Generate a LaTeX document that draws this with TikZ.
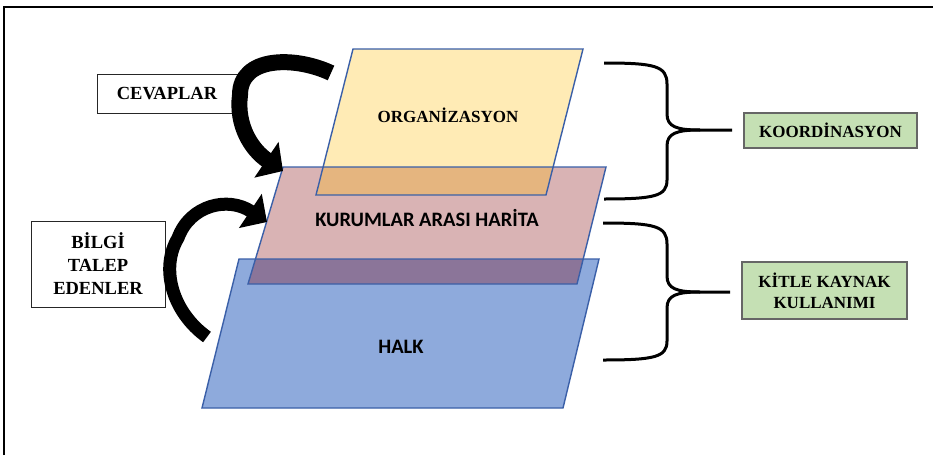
\documentclass[tikz,border=0pt]{standalone}
\usepackage{fontspec}
\setmainfont{Liberation Serif}
\newfontfamily\calib{Carlito}
\usetikzlibrary{arrows.meta}
\definecolor{blueL}{RGB}{142,170,220}
\definecolor{pinkL}{RGB}{217,179,180}
\definecolor{purpleL}{RGB}{139,117,153}
\definecolor{yellowL}{RGB}{255,235,181}
\definecolor{orangeL}{RGB}{229,181,127}
\definecolor{edgeL}{RGB}{58,95,168}
\definecolor{greenL}{RGB}{197,224,180}
\tikzset{
  layeredge/.style={draw=edgeL, line width=1.4pt, line join=miter},
  wbox/.style={draw=black!85, line width=0.9pt, fill=white, align=center, inner sep=0pt},
  gbox/.style={draw=black!60, line width=1.1pt, fill=greenL, align=center, inner sep=0pt},
  brace/.style={draw=black, line width=3pt},
  serifb/.style={font=\bfseries\fontsize{17}{21}\selectfont},
  sansb/.style={font=\calib\bfseries\fontsize{20.5}{24}\selectfont}
}
\begin{document}
\begin{tikzpicture}[x=1pt,y=-1pt]
\useasboundingbox (0,0) rectangle (933,455);
\fill[white] (0,0) rectangle (933,455);
\draw[line width=2pt] (4,455) -- (4,7) -- (933,7);

% layer corners
\coordinate (b1) at (239,259); \coordinate (b2) at (599,259);
\coordinate (b3) at (563,408); \coordinate (b4) at (202,408);
\coordinate (p1) at (283,167); \coordinate (p2) at (606,167);
\coordinate (p3) at (577,284); \coordinate (p4) at (248,284);
\coordinate (y1) at (353,49);  \coordinate (y2) at (583,49);
\coordinate (y3) at (546,195); \coordinate (y4) at (316,195);

\fill[blueL] (b1) -- (b2) -- (b3) -- (b4) -- cycle;
\fill[pinkL] (p1) -- (p2) -- (p3) -- (p4) -- cycle;
\begin{scope}
  \clip (b1) -- (b2) -- (b3) -- (b4) -- cycle;
  \fill[purpleL] (p1) -- (p2) -- (p3) -- (p4) -- cycle;
\end{scope}
\fill[yellowL] (y1) -- (y2) -- (y3) -- (y4) -- cycle;
\begin{scope}
  \clip (p1) -- (p2) -- (p3) -- (p4) -- cycle;
  \fill[orangeL] (y1) -- (y2) -- (y3) -- (y4) -- cycle;
\end{scope}
\draw[layeredge] (b1) -- (b2) -- (b3) -- (b4) -- cycle;
\draw[layeredge] (p1) -- (p2) -- (p3) -- (p4) -- cycle;
\draw[layeredge] (y1) -- (y2) -- (y3) -- (y4) -- cycle;

\node[serifb] (org) at (448,115) {ORGANİZASYON};
\node[sansb] (kur) at (427,218) {KURUMLAR ARASI HARİTA};
\node[sansb] (halk) at (401,347) {HALK};

% left boxes
\node[wbox, minimum width=140pt, minimum height=39pt, font=\bfseries\fontsize{18.5}{22}\selectfont] (cev) at (167,93.5) {CEVAPLAR};
\node[wbox, minimum width=134pt, minimum height=86pt, font=\bfseries\fontsize{18.5}{23}\selectfont] (bilgi) at (98,264) {BİLGİ\\TALEP\\EDENLER};

% right boxes
\node[gbox, minimum width=173pt, minimum height=35pt, font=\bfseries\fontsize{17}{21}\selectfont] (koord) at (830.5,130.5) {KOORDİNASYON};
\node[gbox, minimum width=165pt, minimum height=57pt, font=\bfseries\fontsize{17}{21}\selectfont] (kitle) at (824.5,290.5) {KİTLE KAYNAK\\KULLANIMI};

% curved arrows
\coordinate (cevtail) at (331,73);
\coordinate (cevtip) at (283,171);
\draw[line width=16pt, -{Triangle[length=20pt,width=42pt]}] (cevtail) .. controls (295,56) and (240,56) .. (240,95) .. controls (236,126) and (252,150) .. (cevtip);
\coordinate (biltail) at (207,337);
\coordinate (biltip) at (267,222);
\draw[line width=13pt, -{Triangle[length=20pt,width=40pt]}] (biltail) .. controls (172,312) and (160,268) .. (178,238) .. controls (190,205) and (228,196) .. (biltip);

% braces
\coordinate (br1) at (732,130);
\draw[brace] (604,63) .. controls (655,63) and (667,66) .. (667,84) -- (667,114) .. controls (667,127) and (677,130) .. (700,130) -- (br1);
\draw[brace] (700,130) .. controls (677,130) and (667,133) .. (667,146) -- (667,180) .. controls (667,196) and (655,199) .. (604,199);
\coordinate (br2) at (730,292);
\draw[brace] (603,223) .. controls (655,223) and (667,226) .. (667,244) -- (667,276) .. controls (667,289) and (677,292) .. (700,292) -- (br2);
\draw[brace] (700,292) .. controls (677,292) and (667,295) .. (667,308) -- (667,341) .. controls (667,357) and (655,360) .. (603,360);
\end{tikzpicture}
\end{document}
